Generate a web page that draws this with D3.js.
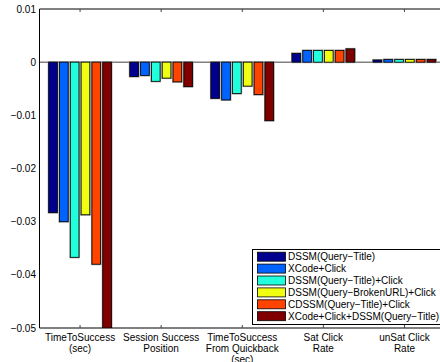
<!DOCTYPE html>
<html>
<head>
<meta charset="utf-8">
<script src="https://cdn.jsdelivr.net/npm/d3@7.9.0/dist/d3.min.js"></script>
<style>
  body { margin: 0; background: #fff; }
  text { font-family: "Liberation Sans", Arial, sans-serif; font-size: 10px; fill: #000; }
</style>
</head>
<body>
<svg id="chart" width="440" height="362"></svg>
<script>
const categories = [
  ['TimeToSuccess', '(sec)'],
  ['Session Success', 'Position'],
  ['TimeToSuccess', 'From Quickback', '(sec)'],
  ['Sat Click', 'Rate'],
  ['unSat Click', 'Rate']
];
const seriesNames = [
  'DSSM(Query\u2212Title)',
  'XCode+Click',
  'DSSM(Query\u2212Title)+Click',
  'DSSM(Query\u2212BrokenURL)+Click',
  'CDSSM(Query\u2212Title)+Click',
  'XCode+Click+DSSM(Query\u2212Title)'
];
const colors = ['#00008f', '#0062ff', '#22ffdd', '#f0ff12', '#ff4400', '#800000'];
// values[series][category]
const values = [
  [-0.0283, -0.0027, -0.0068, 0.00165, 0.0004],
  [-0.0300, -0.0025, -0.0071, 0.0022, 0.0005],
  [-0.0367, -0.0036, -0.0059, 0.0022, 0.0005],
  [-0.0287, -0.0030, -0.0045, 0.0022, 0.0005],
  [-0.0380, -0.0037, -0.0061, 0.0022, 0.0005],
  [-0.0520, -0.0046, -0.0110, 0.0025, 0.0005]
];
const yTicks = [0.01, 0, -0.01, -0.02, -0.03, -0.04, -0.05];

const svg = d3.select('#chart');
const plotL = 39.5, plotT = 9, plotB = 328, plotR = 445;

const x = d3.scaleLinear().domain([0.5, 5.5]).range([plotL, plotR]);
const y = d3.scaleLinear().domain([-0.05, 0.01]).range([plotB, plotT]);

const pitch = (x(1) - x(0)) * 0.8 / 6;
const barW = pitch * 0.8;

svg.append('clipPath').attr('id', 'plotClip')
  .append('rect').attr('x', plotL).attr('y', plotT).attr('width', plotR - plotL).attr('height', plotB - plotT);

// zero line
svg.append('line')
  .attr('x1', plotL).attr('x2', plotR)
  .attr('y1', y(0)).attr('y2', y(0))
  .attr('stroke', '#808080').attr('stroke-width', 1.5);

const bars = svg.append('g').attr('clip-path', 'url(#plotClip)');
values.forEach((row, s) => {
  row.forEach((v, c) => {
    const cx = x(c + 1) + (s - 2.5) * pitch;
    const y0 = Math.min(y(0), y(v));
    const h = Math.abs(y(v) - y(0));
    bars.append('rect')
      .attr('x', cx - barW / 2).attr('y', y0)
      .attr('width', barW).attr('height', h)
      .attr('fill', colors[s])
      .attr('stroke', '#999').attr('stroke-width', 2);
    bars.append('rect')
      .attr('x', cx - barW / 2).attr('y', y0)
      .attr('width', barW).attr('height', h)
      .attr('fill', colors[s])
      .attr('stroke', '#000').attr('stroke-width', 0.8);
  });
});

// axis box
svg.append('path')
  .attr('d', `M${plotR},${plotT}H${plotL}V${plotB}H${plotR}`)
  .attr('fill', 'none').attr('stroke', '#000').attr('stroke-width', 1);

// x ticks top and bottom
categories.forEach((lab, i) => {
  const tx = x(i + 1);
  svg.append('line').attr('x1', tx).attr('x2', tx).attr('y1', plotT).attr('y2', plotT + 3)
    .attr('stroke', '#444');
  svg.append('line').attr('x1', tx).attr('x2', tx).attr('y1', plotB).attr('y2', plotB - 3)
    .attr('stroke', '#444');
  const t = svg.append('text').attr('text-anchor', 'middle');
  lab.forEach((line, j) => {
    t.append('tspan').attr('x', tx).attr('y', 340.5 + j * 11).text(line);
  });
});

// y tick labels
yTicks.forEach(v => {
  svg.append('text')
    .attr('x', 36).attr('y', y(v)).attr('dy', '0.35em')
    .attr('text-anchor', 'end')
    .text(v === 0 ? '0' : d3.format('.2f')(v).replace('-', '\u2212'));
});

// legend
const lg = svg.append('g');
lg.append('rect')
  .attr('x', 252.5).attr('y', 249.5).attr('width', 200).attr('height', 75)
  .attr('fill', '#fff').attr('stroke', '#000').attr('stroke-width', 1);
seriesNames.forEach((name, i) => {
  const cy = 256.7 + i * 11.9;
  lg.append('rect')
    .attr('x', 257.5).attr('y', cy - 4.5).attr('width', 28).attr('height', 9)
    .attr('fill', colors[i]).attr('stroke', '#000').attr('stroke-width', 0.8);
  lg.append('text').attr('x', 288).attr('y', cy).attr('dy', '0.36em').text(name);
});
</script>
</body>
</html>
